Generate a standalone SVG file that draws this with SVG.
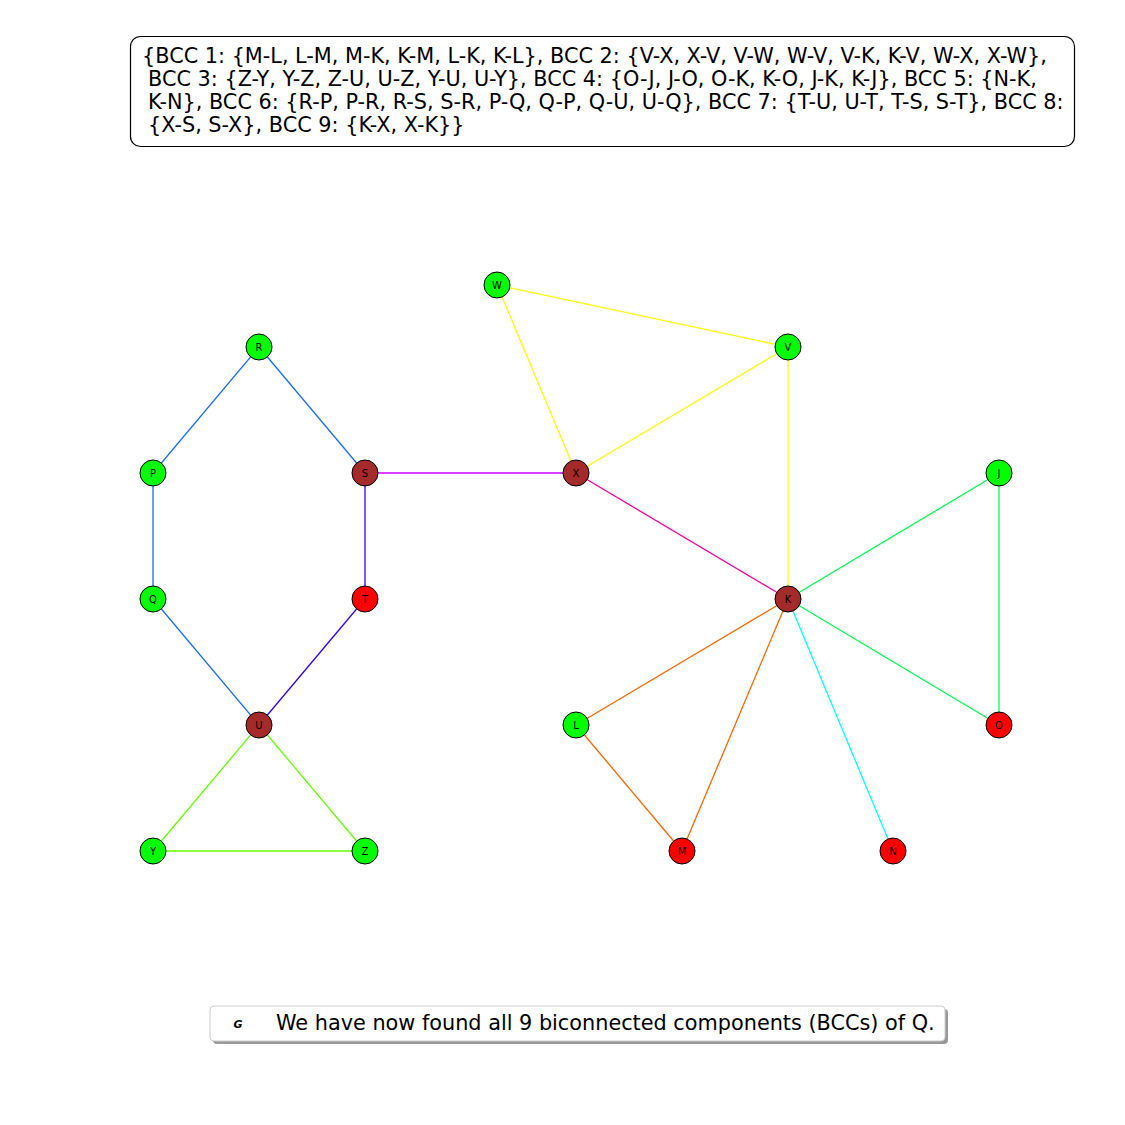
<svg xmlns="http://www.w3.org/2000/svg" width="1125" height="1125" viewBox="0 0 1125 1125">
<style>
.t{font-family:"DejaVu Sans",sans-serif;font-size:20.8px;fill:#000}
.n circle{stroke:#000;stroke-width:1}
.n text{font-family:"DejaVu Sans",sans-serif;font-size:10px;text-anchor:middle;dominant-baseline:central;fill:#000}
.g{fill:#00ff00}.r{fill:#ff0000}.b{fill:#a52a2a}
#edges line{stroke-width:1.3}
</style>
<rect width="1125" height="1125" fill="#fff"/>
<rect x="130.5" y="36.5" width="944" height="110" rx="10" fill="#fff" stroke="#000" stroke-width="1.2"/>
<text class="t" x="142" y="63">{BCC 1: {M-L, L-M, M-K, K-M, L-K, K-L}, BCC 2: {V-X, X-V, V-W, W-V, V-K, K-V, W-X, X-W},</text>
<text class="t" x="148" y="86">BCC 3: {Z-Y, Y-Z, Z-U, U-Z, Y-U, U-Y}, BCC 4: {O-J, J-O, O-K, K-O, J-K, K-J}, BCC 5: {N-K,</text>
<text class="t" x="148" y="109">K-N}, BCC 6: {R-P, P-R, R-S, S-R, P-Q, Q-P, Q-U, U-Q}, BCC 7: {T-U, U-T, T-S, S-T}, BCC 8:</text>
<text class="t" x="148" y="132">{X-S, S-X}, BCC 9: {K-X, X-K}}</text>
<g id="edges">
<line x1="259" y1="347" x2="153" y2="473" stroke="#1a6bff"/>
<line x1="259" y1="347" x2="365" y2="473" stroke="#1a6bff"/>
<line x1="153" y1="473" x2="153" y2="599" stroke="#1a6bff"/>
<line x1="153" y1="599" x2="259" y2="725" stroke="#1a6bff"/>
<line x1="365" y1="473" x2="365" y2="599" stroke="#3300ff"/>
<line x1="365" y1="599" x2="259" y2="725" stroke="#3300ff"/>
<line x1="365" y1="473" x2="576" y2="473" stroke="#cc00ff"/>
<line x1="576" y1="473" x2="788" y2="599" stroke="#ff0099"/>
<line x1="497" y1="285" x2="788" y2="347" stroke="#ffff00"/>
<line x1="497" y1="285" x2="576" y2="473" stroke="#ffff00"/>
<line x1="576" y1="473" x2="788" y2="347" stroke="#ffff00"/>
<line x1="788" y1="347" x2="788" y2="599" stroke="#ffff00"/>
<line x1="999" y1="473" x2="788" y2="599" stroke="#00ff55"/>
<line x1="999" y1="473" x2="999" y2="725" stroke="#00ff55"/>
<line x1="788" y1="599" x2="999" y2="725" stroke="#00ff55"/>
<line x1="788" y1="599" x2="576" y2="725" stroke="#ff6600"/>
<line x1="788" y1="599" x2="682" y2="851" stroke="#ff6600"/>
<line x1="576" y1="725" x2="682" y2="851" stroke="#ff6600"/>
<line x1="788" y1="599" x2="893" y2="851" stroke="#00ffff"/>
<line x1="259" y1="725" x2="153" y2="851" stroke="#66ff00"/>
<line x1="259" y1="725" x2="365" y2="851" stroke="#66ff00"/>
<line x1="153" y1="851" x2="365" y2="851" stroke="#66ff00"/>
</g>
<g id="node-W" class="n"><circle class="g" cx="497" cy="285" r="13"/><text x="497" y="285">W</text></g>
<g id="node-V" class="n"><circle class="g" cx="788" cy="347" r="13"/><text x="788" y="347">V</text></g>
<g id="node-R" class="n"><circle class="g" cx="259" cy="347" r="13"/><text x="259" y="347">R</text></g>
<g id="node-P" class="n"><circle class="g" cx="153" cy="473" r="13"/><text x="153" y="473">P</text></g>
<g id="node-S" class="n"><circle class="b" cx="365" cy="473" r="13"/><text x="365" y="473">S</text></g>
<g id="node-X" class="n"><circle class="b" cx="576" cy="473" r="13"/><text x="576" y="473">X</text></g>
<g id="node-J" class="n"><circle class="g" cx="999" cy="473" r="13"/><text x="999" y="473">J</text></g>
<g id="node-Q" class="n"><circle class="g" cx="153" cy="599" r="13"/><text x="153" y="599">Q</text></g>
<g id="node-T" class="n"><circle class="r" cx="365" cy="599" r="13"/><text x="365" y="599">T</text></g>
<g id="node-K" class="n"><circle class="b" cx="788" cy="599" r="13"/><text x="788" y="599">K</text></g>
<g id="node-U" class="n"><circle class="b" cx="259" cy="725" r="13"/><text x="259" y="725">U</text></g>
<g id="node-L" class="n"><circle class="g" cx="576" cy="725" r="13"/><text x="576" y="725">L</text></g>
<g id="node-O" class="n"><circle class="r" cx="999" cy="725" r="13"/><text x="999" y="725">O</text></g>
<g id="node-Y" class="n"><circle class="g" cx="153" cy="851" r="13"/><text x="153" y="851">Y</text></g>
<g id="node-Z" class="n"><circle class="g" cx="365" cy="851" r="13"/><text x="365" y="851">Z</text></g>
<g id="node-M" class="n"><circle class="r" cx="682" cy="851" r="13"/><text x="682" y="851">M</text></g>
<g id="node-N" class="n"><circle class="r" cx="893" cy="851" r="13"/><text x="893" y="851">N</text></g>
<g id="legend">
<rect x="213" y="1009" width="735" height="35" rx="4" fill="#999"/>
<rect x="210" y="1006" width="735" height="35" rx="4" fill="#fff" stroke="#ccc" stroke-width="1"/>
<text x="238" y="1028" font-family="DejaVu Sans,sans-serif" font-size="11" font-weight="bold" font-style="italic" text-anchor="middle">G</text>
<text class="t" x="276" y="1030">We have now found all 9 biconnected components (BCCs) of Q.</text>
</g>
</svg>
